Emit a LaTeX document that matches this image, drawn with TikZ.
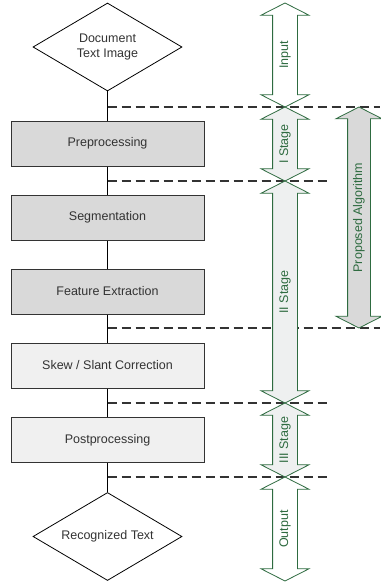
\documentclass[tikz,border=0pt]{standalone}
\usepackage{fontspec}
\setmainfont{Liberation Sans}
\usetikzlibrary{shapes.geometric,shapes.arrows}
\definecolor{boxdark}{HTML}{D9D9D9}
\definecolor{boxlight}{HTML}{F0F0F0}
\definecolor{stagegreen}{HTML}{2E6B40}
\definecolor{stagefill}{HTML}{EEF0F0}
\definecolor{linegray}{HTML}{333333}
\tikzset{
  stepblock/.style={draw=linegray, line width=1pt, minimum width=193pt,
    minimum height=45pt, inner sep=0pt, text=linegray},
  decision/.style={diamond, draw=black, line width=0.8pt, minimum width=149pt,
    minimum height=88pt, aspect=1.69, inner sep=0pt, align=center, text=linegray},
  stagearrow/.style={double arrow, draw=stagegreen, line width=0.8pt, rotate=90,
    text=stagegreen, text height=9pt, text depth=3pt, inner xsep=0pt, inner ysep=6pt,
    double arrow head extend=11.5pt, double arrow tip angle=126, minimum height=#1},
  boundary/.style={draw=linegray, line width=1.6pt, dash pattern=on 9pt off 5pt},
}
\begin{document}
\begin{tikzpicture}[x=1pt,y=-1pt,font=\fontsize{12.5}{15}\selectfont]
  \useasboundingbox (0,0) rectangle (380,586);
  % flow chart
  \node[decision] (docimage) at (107.5,47) {Document\\Text Image};
  \node[stepblock, fill=boxdark] (pre) at (107.5,143.5) {Preprocessing};
  \node[stepblock, fill=boxdark] (seg) at (107.5,217.5) {Segmentation};
  \node[stepblock, fill=boxdark] (feat) at (107.5,291.5) {Feature Extraction};
  \node[stepblock, fill=boxlight] (skew) at (107.5,365.5) {Skew / Slant Correction};
  \node[stepblock, fill=boxlight] (post) at (107.5,440) {Postprocessing};
  \node[decision] (rectext) at (107.5,536.5) {Recognized Text};
  \begin{scope}[draw=black, line width=0.8pt]
    \draw (docimage) -- (pre);
    \draw (pre) -- (seg);
    \draw (seg) -- (feat);
    \draw (feat) -- (skew);
    \draw (skew) -- (post);
    \draw (post) -- (rectext);
  \end{scope}
  % stage boundaries
  \coordinate (b1) at (107.5,107);  \coordinate (e1) at (380,107);
  \coordinate (b2) at (107.5,181);  \coordinate (e2) at (328,181);
  \coordinate (b3) at (107.5,328);  \coordinate (e3) at (380,328);
  \coordinate (b4) at (107.5,403);  \coordinate (e4) at (328,403);
  \coordinate (b5) at (107.5,477);  \coordinate (e5) at (328,477);
  \draw[boundary] (b1) -- (e1);
  \draw[boundary] (b2) -- (e2);
  \draw[boundary] (b3) -- (e3);
  \draw[boundary] (b4) -- (e4);
  \draw[boundary] (b5) -- (e5);
  % stages
  \node[stagearrow=104pt, fill=white] (input) at (285,55) {Input};
  \node[stagearrow=74pt, fill=stagefill] (stage1) at (285,144) {I Stage};
  \node[stagearrow=222pt, fill=stagefill] (stage2) at (285,292) {II Stage};
  \node[stagearrow=74pt, fill=stagefill] (stage3) at (285,440) {III Stage};
  \node[stagearrow=104pt, fill=white] (output) at (285,529) {Output};
  \node[stagearrow=221pt, fill=boxdark, inner ysep=5pt] (algo) at (359,217.5) {Proposed Algorithm};
\end{tikzpicture}
\end{document}
